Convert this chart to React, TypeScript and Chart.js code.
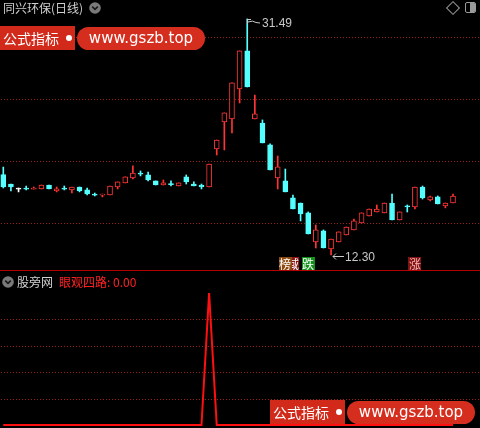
import React, { useEffect, useRef } from "react";
import { Chart, registerables } from "chart.js";
Chart.register(...registerables);

// ---------- data ----------
const stockName = "同兴环保(日线)";
const indicatorGroup = "股旁网";
const indicatorName = "眼观四路";

const openP = [18.84, 18.07, 17.75, 17.75, 17.67, 17.67, 17.99, 17.51, 17.75, 17.59,
  17.83, 17.59, 17.26, 17.18, 17.18, 17.83, 18.16, 18.56, 18.97, 18.81,
  18.32, 17.99, 18.11, 17.91, 18.65, 18.07, 17.99, 17.83, 20.92, 23.12,
  23.36, 25.80, 28.89, 23.36, 23.03, 21.25, 18.56, 18.32, 16.94, 16.53,
  15.72, 13.36, 14.26, 12.79, 13.36, 13.93, 14.34, 14.90, 15.47, 15.80,
  15.72, 16.53, 15.15, 16.29, 16.21, 17.83, 16.77, 17.02, 16.29, 16.53];
const highP = [19.45, 18.07, 17.75, 17.91, 17.83, 17.99, 17.99, 17.83, 17.91, 17.83,
  17.83, 17.75, 17.34, 17.26, 17.91, 18.24, 18.65, 19.54, 19.13, 19.05,
  18.32, 18.40, 18.32, 18.16, 18.81, 18.24, 18.07, 19.70, 21.65, 23.85,
  26.29, 28.89, 31.49, 25.31, 23.28, 21.33, 20.35, 19.29, 17.18, 16.53,
  15.80, 14.74, 14.34, 13.60, 14.18, 14.58, 15.23, 15.72, 16.04, 16.37,
  16.53, 17.26, 15.80, 16.37, 17.83, 17.91, 17.10, 17.10, 16.53, 17.26];
const lowP = [17.75, 17.51, 17.43, 17.59, 17.67, 17.67, 17.67, 17.43, 17.59, 17.34,
  17.43, 17.18, 17.10, 17.02, 17.18, 17.67, 18.16, 18.48, 18.73, 18.32,
  17.99, 17.99, 17.91, 17.91, 18.07, 17.91, 17.67, 17.83, 20.43, 20.84,
  22.22, 24.66, 25.96, 23.36, 21.41, 19.21, 17.67, 17.43, 16.04, 15.07,
  14.01, 12.87, 12.87, 12.30, 13.36, 13.93, 14.34, 14.90, 15.47, 15.80,
  15.72, 15.15, 15.15, 15.80, 16.04, 16.85, 16.69, 16.45, 16.13, 16.53];
const closeP = [17.83, 17.83, 17.75, 17.67, 17.75, 17.99, 17.67, 17.67, 17.67, 17.83,
  17.51, 17.26, 17.22, 17.26, 17.91, 18.24, 18.65, 18.97, 18.89, 18.40,
  17.99, 18.16, 18.03, 18.16, 18.24, 17.91, 17.83, 19.70, 21.65, 23.85,
  26.29, 28.89, 25.96, 23.77, 21.41, 19.21, 19.46, 17.43, 16.04, 15.64,
  14.01, 14.34, 12.87, 13.60, 14.18, 14.58, 15.07, 15.72, 16.04, 16.04,
  16.53, 15.15, 15.80, 16.21, 17.83, 16.94, 17.02, 16.45, 16.53, 17.10];

const indicatorValues = [0, 0, 0, 0, 0, 0, 0, 0, 0, 0,
  0, 0, 0, 0, 0, 0, 0, 0, 0, 0,
  0, 0, 0, 0, 0, 0, 0, 100, 0, 0,
  0, 0, 0, 0, 0, 0, 0, 0, 0, 0,
  0, 0, 0, 0, 0, 0, 0, 0, 0, 0,
  0, 0, 0, 0, 0, 0, 0, 0, 0, 0];

const priceGridTicks = [14.90, 19.94, 24.98, 30.03];
const indicatorGridTicks = [20, 40, 60, 80];

const signalIndex = [38, 37, 40, 54];
const signalText = ["域", "榜", "跌", "涨"];
const signalBg = ["#8a1414", "#8c4a12", "#14901c", "#7c1414"];
const signalFg = ["#ffffff", "#ffffff", "#ffffff", "#ffb0b0"];

// ---------- styles ----------
const UP = "#ff3535";
const DOWN = "#54ffff";
const DOJI = "#ffffff";
const GRID = "#9a2020";
const X_MIN = -0.433;
const X_MAX = 62.54;

const idx = openP.map((_, i) => i);
const isUp = (i: number) => closeP[i] > openP[i];
const colorOf = (i: number) =>
  closeP[i] === openP[i] ? DOJI : isUp(i) ? UP : DOWN;

const yAxisCommon = (ticks: number[]) => ({
  position: "left" as const,
  ticks: { display: false },
  border: { display: false },
  grid: { display: false },
  afterBuildTicks: (s: any) => {
    s.ticks = ticks.map((v) => ({ value: v }));
  },
  afterFit: (s: any) => {
    s.width = 0;
  },
});

// dotted horizontal grid drawn from the y scale's ticks
const dottedGridPlugin = {
  id: "dottedGrid",
  beforeDatasetsDraw(chart: any) {
    const { ctx, chartArea } = chart;
    const ys = chart.scales.y;
    ctx.save();
    ctx.fillStyle = GRID;
    ys.ticks.forEach((t: any) => {
      const y = Math.round(ys.getPixelForValue(t.value));
      for (let x = chartArea.left + 1; x < chartArea.right; x += 3) {
        ctx.fillRect(x, y, 1, 1);
      }
    });
    ctx.restore();
  },
};

const annotatePlugin = {
  id: "annot",
  afterDatasetsDraw(chart: any) {
    const { ctx, chartArea } = chart;
    const xs = chart.scales.x;
    const ys = chart.scales.y;
    let hi = 0;
    highP.forEach((v, i) => {
      if (v > highP[hi]) hi = i;
    });
    let lo = 0;
    lowP.forEach((v, i) => {
      if (v < lowP[lo]) lo = i;
    });
    ctx.save();
    ctx.strokeStyle = "#c8c8c8";
    ctx.fillStyle = "#c8c8c8";
    ctx.lineWidth = 1;
    const hx = Math.round(xs.getPixelForValue(hi));
    const hy = Math.round(ys.getPixelForValue(highP[hi]));
    ctx.beginPath();
    ctx.moveTo(hx + 0.5, hy + 0.5);
    ctx.lineTo(hx + 0.5, hy + 5);
    ctx.moveTo(hx + 0.5, hy + 0.5);
    ctx.lineTo(hx + 4, hy + 0.5);
    ctx.moveTo(hx + 1, hy + 3);
    ctx.quadraticCurveTo(hx + 6, hy + 1, hx + 9, hy + 3.5);
    ctx.lineTo(hx + 13, hy + 4);
    ctx.stroke();
    ctx.font = "12px 'Liberation Sans', Arial, sans-serif";
    ctx.textBaseline = "middle";
    ctx.textAlign = "left";
    ctx.fillText(highP[hi].toFixed(2), hx + 15, hy + 5);

    const lx = Math.round(xs.getPixelForValue(lo));
    const ly = Math.round(ys.getPixelForValue(lowP[lo]));
    ctx.beginPath();
    ctx.moveTo(lx + 2, ly + 1.5);
    ctx.lineTo(lx + 13, ly + 1.5);
    ctx.moveTo(lx + 2, ly + 1.5);
    ctx.lineTo(lx + 5, ly - 1.5);
    ctx.moveTo(lx + 2, ly + 1.5);
    ctx.lineTo(lx + 5, ly + 4.5);
    ctx.stroke();
    ctx.fillText(lowP[lo].toFixed(2), lx + 14, ly + 3);

    ctx.font = "12px 'Noto Sans CJK SC', sans-serif";
    ctx.textAlign = "center";
    signalIndex.forEach((si, k) => {
      const cx = xs.getPixelForValue(si);
      const b = chartArea.bottom - 1;
      ctx.fillStyle = signalBg[k];
      ctx.fillRect(Math.round(cx - 6.5), b - 13, 13, 13);
      ctx.fillStyle = signalFg[k];
      ctx.fillText(signalText[k], Math.round(cx), b - 6);
    });
    ctx.restore();
  },
};

const redBox = "#d12a1a";
const redPill = "#d62e1e";

function Watermark({ left, top }: { left: number; top: number }) {
  return (
    <div style={{ position: "absolute", left, top, width: 210, height: 26 }}>
      <div
        style={{
          position: "absolute",
          left: 0,
          top: 0,
          width: 75,
          height: 24,
          background: redBox,
          color: "#fff",
          fontFamily: "'Noto Sans CJK SC', sans-serif",
          fontSize: 14,
          lineHeight: "24px",
          paddingLeft: 3,
          boxSizing: "border-box",
        }}
      >
        公式指标
        <div
          style={{
            position: "absolute",
            left: 66,
            top: 9,
            width: 6,
            height: 6,
            borderRadius: 3,
            background: "#fff",
          }}
        />
      </div>
      <div
        style={{
          position: "absolute",
          left: 77,
          top: 1,
          width: 128,
          height: 23,
          borderRadius: 12,
          background: redPill,
          color: "#fff",
          fontFamily: "'DejaVu Sans', sans-serif",
          fontSize: 15,
          lineHeight: "23px",
          textAlign: "center",
        }}
      >
        www.gszb.top
      </div>
    </div>
  );
}

function Chevron({ left, top }: { left: number; top: number }) {
  return (
    <svg
      style={{ position: "absolute", left, top }}
      width={12}
      height={12}
      viewBox="0 0 12 12"
    >
      <circle cx={6} cy={6} r={5.8} fill="#7a7a7a" />
      <polyline
        points="3.2,4.6 6,7.4 8.8,4.6"
        fill="none"
        stroke="#1a1a1a"
        strokeWidth={1.6}
      />
    </svg>
  );
}

export default function App() {
  const topRef = useRef<HTMLCanvasElement>(null);
  const botRef = useRef<HTMLCanvasElement>(null);

  useEffect(() => {
    const top = new Chart(topRef.current as HTMLCanvasElement, {
      type: "bar",
      data: {
        datasets: [
          {
            label: "wick",
            data: idx.map((i) => ({ x: i, y: [lowP[i], highP[i]] })) as any,
            backgroundColor: idx.map(colorOf),
            borderWidth: 0,
            barThickness: 1,
            grouped: false,
            order: 2,
          } as any,
          {
            label: "body",
            data: idx.map((i) => {
              let a = Math.min(openP[i], closeP[i]);
              const b = Math.max(openP[i], closeP[i]);
              if (b - a < 0.09) a = b - 0.09;
              return { x: i, y: [a, b] };
            }) as any,
            backgroundColor: idx.map((i) => (isUp(i) ? "#000000" : colorOf(i))),
            borderColor: idx.map(colorOf),
            borderWidth: 1,
            borderSkipped: false,
            barThickness: 5,
            grouped: false,
            order: 1,
          } as any,
        ],
      },
      options: {
        responsive: false,
        animation: false,
        events: [],
        layout: { padding: 0 },
        plugins: { legend: { display: false }, tooltip: { enabled: false } },
        scales: {
          x: { type: "linear", min: X_MIN, max: X_MAX, offset: false, display: false },
          y: { min: 11.0, max: 33.03, ...yAxisCommon(priceGridTicks) } as any,
        },
      },
      plugins: [dottedGridPlugin, annotatePlugin],
    });

    const bot = new Chart(botRef.current as HTMLCanvasElement, {
      type: "line",
      data: {
        datasets: [
          {
            label: indicatorName,
            data: indicatorValues.map((v, i) => ({ x: i, y: v })),
            borderColor: "#ff1010",
            borderWidth: 2,
            pointRadius: 0,
            tension: 0,
          },
        ],
      },
      options: {
        responsive: false,
        animation: false,
        events: [],
        layout: { padding: 0 },
        plugins: { legend: { display: false }, tooltip: { enabled: false } },
        scales: {
          x: { type: "linear", min: X_MIN, max: X_MAX, offset: false, display: false },
          y: { min: -2.27, max: 116.7, ...yAxisCommon(indicatorGridTicks) } as any,
        },
      },
      plugins: [dottedGridPlugin],
    });

    return () => {
      top.destroy();
      bot.destroy();
    };
  }, []);

  const lastVal = indicatorValues[indicatorValues.length - 1].toFixed(2);

  return (
    <div
      style={{
        position: "relative",
        width: 480,
        height: 428,
        background: "#000",
        overflow: "hidden",
      }}
    >
      <style>{`body{margin:0;background:#000;}`}</style>
      <canvas
        ref={topRef}
        width={480}
        height={271}
        style={{ position: "absolute", left: 0, top: 0, width: 480, height: 271 }}
      />
      <canvas
        ref={botRef}
        width={480}
        height={157}
        style={{ position: "absolute", left: 0, top: 271, width: 480, height: 157 }}
      />
      <div
        style={{
          position: "absolute",
          left: 0,
          top: 270,
          width: 480,
          height: 1,
          background: "#b40000",
        }}
      />
      <div
        style={{
          position: "absolute",
          left: 3,
          top: 0,
          fontFamily: "'Noto Sans CJK SC', sans-serif",
          fontSize: 12,
          lineHeight: "16px",
          color: "#cfcfcf",
          whiteSpace: "nowrap",
        }}
      >
        {stockName}
      </div>
      <Chevron left={89} top={2} />
      <div
        style={{
          position: "absolute",
          left: 448,
          top: 3,
          width: 8,
          height: 8,
          border: "1px solid #9a9a9a",
          transform: "rotate(45deg)",
        }}
      />
      <div
        style={{
          position: "absolute",
          left: 465,
          top: 2,
          width: 9,
          height: 9,
          border: "1.5px solid #9a9a9a",
          borderRadius: 2,
          overflow: "hidden",
        }}
      >
        <div
          style={{
            position: "absolute",
            right: 0,
            top: 0,
            width: 5,
            height: 9,
            background: "#9a9a9a",
          }}
        />
      </div>
      <Watermark left={0} top={26} />
      <Chevron left={2} top={276} />
      <div
        style={{
          position: "absolute",
          left: 17,
          top: 274,
          fontFamily: "'Noto Sans CJK SC', sans-serif",
          fontSize: 12,
          lineHeight: "16px",
          whiteSpace: "nowrap",
        }}
      >
        <span style={{ color: "#cfcfcf" }}>{indicatorGroup}</span>
        <span style={{ color: "#ff2020", marginLeft: 6 }}>
          {indicatorName}: {lastVal}
        </span>
      </div>
      <Watermark left={270} top={400} />
    </div>
  );
}
